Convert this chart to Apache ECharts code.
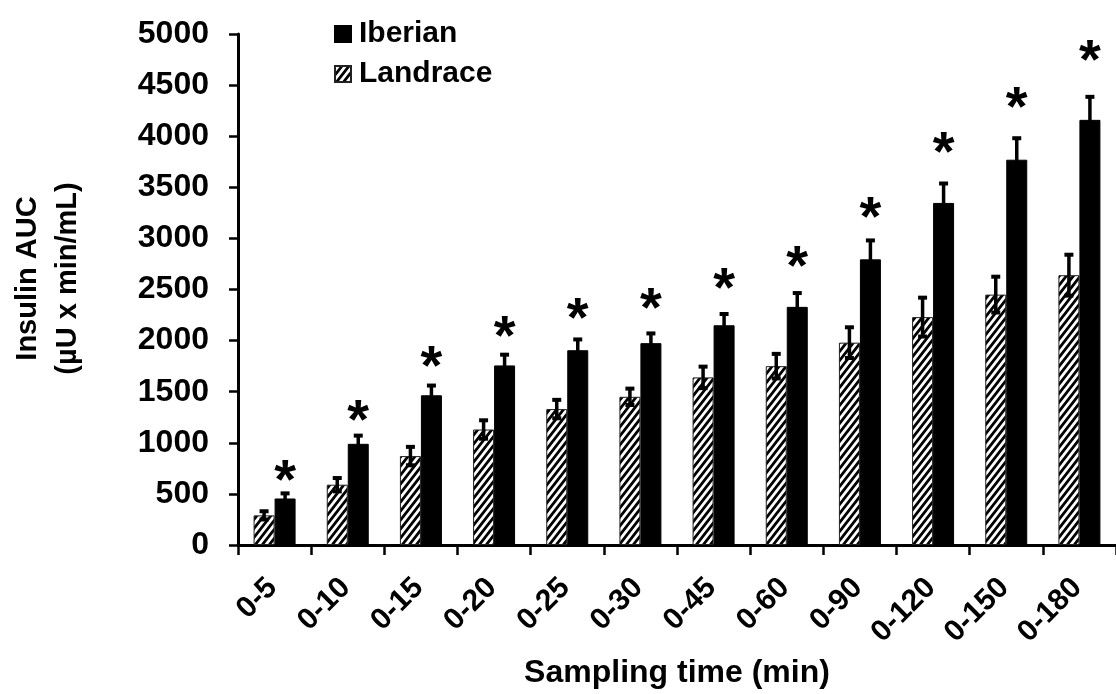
<!DOCTYPE html>
<html>
<head>
<meta charset="utf-8">
<script src="https://cdn.jsdelivr.net/npm/echarts@6/dist/echarts.min.js"></script>
<style>
html,body{margin:0;padding:0;background:#fff;}
#chart{width:1116px;height:694px;}
</style>
</head>
<body>
<div id="chart"></div>
<script>
const categories = ['0-5','0-10','0-15','0-20','0-25','0-30','0-45','0-60','0-90','0-120','0-150','0-180'];
const landrace = [290, 590, 870, 1130, 1330, 1450, 1640, 1750, 1980, 2230, 2450, 2640];
const landraceErr = [50, 75, 100, 100, 100, 90, 115, 130, 160, 200, 185, 210];
const iberian = [455, 990, 1465, 1757, 1906, 1975, 2150, 2330, 2795, 3347, 3770, 4160];
const iberianErr = [60, 90, 105, 115, 115, 105, 120, 145, 195, 200, 220, 235];
const starLevels = [723, 1310, 1834, 2125, 2304, 2401, 2597, 2819, 3298, 3934, 4373, 4829];
const yTicks = [0, 500, 1000, 1500, 2000, 2500, 3000, 3500, 4000, 4500, 5000];

const FONT = "'Liberation Sans', Arial, sans-serif";
const BAR_W = 21;

function makeHatch() {
  const w = 7, h = 9;
  const c = document.createElement('canvas');
  c.width = w; c.height = h;
  const g = c.getContext('2d');
  g.fillStyle = '#fff';
  g.fillRect(0, 0, w, h);
  g.strokeStyle = '#000';
  g.lineWidth = 2.8;
  g.beginPath();
  g.moveTo(-w, 2 * h); g.lineTo(2 * w, -h);
  g.moveTo(-w, h); g.lineTo(w, -h);
  g.moveTo(0, 2 * h); g.lineTo(2 * w, 0);
  g.stroke();
  return c;
}
const hatch = { image: makeHatch(), repeat: 'repeat' };

function errData(vals, errs) {
  return vals.map((v, i) => [i, v, errs[i]]);
}
function errRender(offset) {
  return function (params, api) {
    const i = api.value(0), v = api.value(1), e = api.value(2);
    const c = api.coord([i, v]);
    const x = c[0] + offset;
    const yt = api.coord([i, v + e])[1];
    const yb = api.coord([i, v - e])[1];
    return {
      type: 'group',
      children: [
        { type: 'line', shape: { x1: x, y1: yt, x2: x, y2: yb }, style: { stroke: '#000', lineWidth: 3.5 } },
        { type: 'rect', shape: { x: x - 4.5, y: yt - 1, width: 9, height: 4 }, style: { fill: '#000' } },
        { type: 'rect', shape: { x: x - 4.5, y: yb - 3, width: 9, height: 4 }, style: { fill: '#000' } }
      ]
    };
  };
}

const chart = echarts.init(document.getElementById('chart'), null, { renderer: 'canvas' });
chart.setOption({
  animation: false,
  backgroundColor: '#fff',
  textStyle: { fontFamily: FONT },
  legend: {
    data: ['Iberian', 'Landrace'],
    orient: 'vertical',
    left: 329,
    top: 14,
    itemWidth: 16,
    itemHeight: 16,
    itemGap: 10,
    icon: 'rect',
    textStyle: { fontFamily: FONT, fontSize: 30, fontWeight: 'bold', color: '#000', padding: [0, 0, 0, 3] }
  },
  grid: { left: 224, top: 34, width: 898, height: 511, containLabel: false },
  xAxis: {
    type: 'category',
    data: categories,
    boundaryGap: true,
    name: 'Sampling time (min)',
    nameLocation: 'middle',
    nameGap: 112,
    nameTextStyle: { fontFamily: FONT, fontSize: 32, fontWeight: 'bold', color: '#000' },
    axisLine: { lineStyle: { color: '#000', width: 3 } },
    axisTick: { show: true, length: 10, lineStyle: { color: '#000', width: 2.5 } },
    axisLabel: {
      interval: 0, rotate: 45, margin: 36,
      padding: [0, 3, 0, 0],
      fontFamily: FONT, fontSize: 30, fontWeight: 'bold', color: '#000'
    },
    splitLine: { show: false }
  },
  yAxis: {
    type: 'value',
    min: 0, max: 5000, interval: 500,
    name: 'Insulin AUC\n(µU x min/mL)',
    nameLocation: 'middle',
    nameGap: 150,
    nameRotate: 90,
    nameTextStyle: { fontFamily: FONT, fontSize: 29, fontWeight: 'bold', color: '#000', lineHeight: 40, padding: [0, 0, 0, 22] },
    axisLine: { show: true, lineStyle: { color: '#000', width: 3 } },
    axisTick: { show: true, length: 9, lineStyle: { color: '#000', width: 2.5 } },
    axisLabel: {
      margin: 29, fontFamily: FONT, fontSize: 32, fontWeight: 'bold', color: '#000',
      formatter: v => (yTicks.indexOf(v) >= 0 ? String(v) : '')
    },
    splitLine: { show: false }
  },
  series: [
    {
      name: 'Landrace', type: 'bar', data: landrace, barWidth: BAR_W, barGap: '0%',
      itemStyle: { color: hatch, borderColor: '#222', borderWidth: 1 }
    },
    {
      name: 'Iberian', type: 'bar', data: iberian, barWidth: BAR_W, barGap: '0%',
      itemStyle: { color: '#000', borderColor: '#000', borderWidth: 1 }
    },
    {
      name: 'LandraceErr', type: 'custom', data: errData(landrace, landraceErr),
      renderItem: errRender(-BAR_W / 2), z: 5, encode: { x: 0, y: 1 }
    },
    {
      name: 'IberianErr', type: 'custom', data: errData(iberian, iberianErr),
      renderItem: errRender(BAR_W / 2), z: 5, encode: { x: 0, y: 1 }
    },
    {
      name: 'Stars', type: 'custom', data: starLevels.map((v, i) => [i, v]),
      encode: { x: 0, y: 1 }, z: 6,
      renderItem: function (params, api) {
        const c = api.coord([api.value(0), api.value(1)]);
        const fs = 56;
        return {
          type: 'text',
          x: c[0] + BAR_W / 2,
          y: c[1] + fs * 0.2,
          style: {
            text: '*', fontSize: fs, fontWeight: 'bold', fontFamily: FONT,
            fill: '#000', align: 'center', verticalAlign: 'middle'
          }
        };
      }
    }
  ]
});
</script>
</body>
</html>
